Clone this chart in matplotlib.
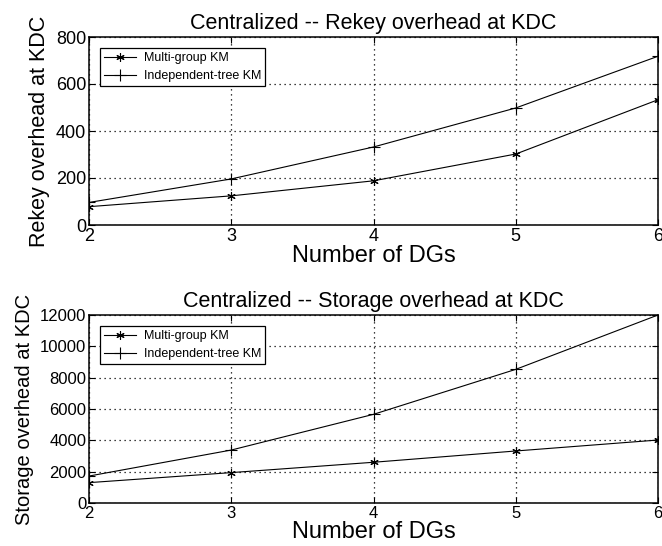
import matplotlib.pyplot as plt

# numero de DGs
dgs = [2, 3, 4, 5, 6]

# overhead de rekey no KDC
rekey_multi = [78, 124, 188, 302, 533]
rekey_indep = [96, 196, 332, 498, 718]

# overhead de armazenamento no KDC
storage_multi = [1300, 1940, 2600, 3320, 4020]
storage_indep = [1720, 3380, 5660, 8530, 12000]

plt.rcParams['font.family'] = ['Liberation Sans', 'DejaVu Sans']

fig = plt.figure(figsize=(6.62, 5.46), dpi=100)
ax1 = fig.add_axes([89/662, 1-225/546, 569/662, 188/546])
ax2 = fig.add_axes([89/662, 1-503/546, 569/662, 188/546])

def desenhar(ax, multi, indep, titulo, ylabel, ymax, ystep, ylsize, ticksize):
    ax.plot(dgs, multi, color='k', lw=0.8, marker=(6, 2, 0), ms=6, mew=0.8, label='Multi-group KM')
    ax.plot(dgs, indep, color='k', lw=0.8, marker='+', ms=9, mew=0.8, label='Independent-tree KM')
    ax.set_xlim(2, 6)
    ax.set_ylim(0, ymax)
    ax.set_xticks(dgs)
    ax.set_yticks(range(0, ymax + 1, ystep))
    ax.grid(True, color='k', linestyle=(0, (1, 3)), lw=0.9)
    ax.tick_params(direction='in', top=True, right=True, labelsize=ticksize, length=4, pad=2)
    ax.set_title(titulo, fontsize=15.5, pad=6)
    ax.set_xlabel('Number of DGs', fontsize=17, labelpad=0)
    ax.set_ylabel(ylabel, fontsize=ylsize, labelpad=4)
    for s in ax.spines.values():
        s.set_linewidth(1.1)
    leg = ax.legend(loc='upper left', fontsize=9, fancybox=False, framealpha=1,
                    edgecolor='k', handlelength=2.6, borderpad=0.3, labelspacing=0.5,
                    handletextpad=0.6, borderaxespad=0, bbox_to_anchor=(0.019, 0.94))
    leg.get_frame().set_linewidth(0.9)

desenhar(ax1, rekey_multi, rekey_indep, 'Centralized -- Rekey overhead at KDC',
         'Rekey overhead at KDC', 800, 200, 15.5, 13)
desenhar(ax2, storage_multi, storage_indep, 'Centralized -- Storage overhead at KDC',
         'Storage overhead at KDC', 12000, 2000, 14.5, 12)

fig.savefig('out.png', dpi=100)
